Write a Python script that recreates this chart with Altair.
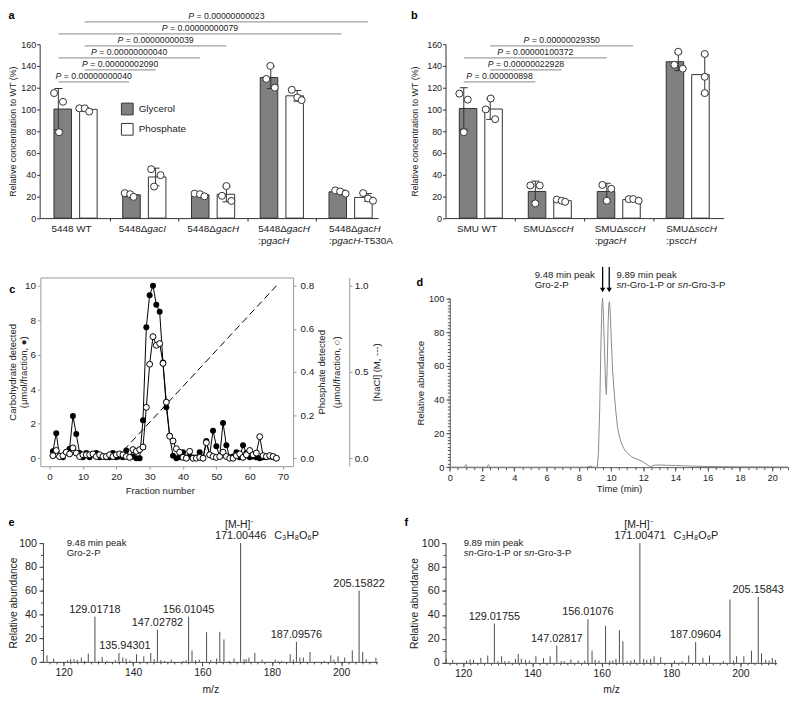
import altair as alt
import pandas as pd

FONT = "Liberation Sans"
INK = "#222222"
W, H = 792, 694


def X(r):
    return r - 8.0


def Y(r):
    return r - 8.0


# ---------------- panel a data ----------------
A_CATS = ["5448 WT", "5448Δ_gacI_", "5448Δ_gacH_", "5448Δ_gacH_\n:p_gacH_", "5448Δ_gacH_\n:p_gacH_-T530A"]
A_GLYCEROL = [[115, 107, 79], [23, 22, 19.5], [22.5, 22, 20], [128, 140, 120], [25.5, 24.5, 22.5]]
A_PHOSPHATE = [[101, 101, 98], [45, 39.5, 29], [29.5, 20.5, 15.8], [118, 111, 108.5], [23, 18, 16]]
A_PVALUES = ["0.00000000040", "0.00000002090", "0.00000000040", "0.00000000039", "0.00000000079", "0.00000000023"]
A_PAIRS = [(0, 1, "Glycerol"), (0, 1, "Phosphate"), (0, 2, "Glycerol"), (0, 2, "Phosphate"),
           (0, 4, "Glycerol"), (0, 4, "Phosphate")]

# ---------------- panel b data ----------------
B_CATS = ["SMU WT", "SMUΔ_sccH_", "SMUΔ_sccH_\n:p_gacH_", "SMUΔ_sccH_\n:p_sccH_"]
B_GLYCEROL = [[114.5, 109, 79], [30, 30, 13.5], [30.5, 27, 16], [141, 153, 137.5]]
B_PHOSPHATE = [[100, 110, 91], [17, 16, 15], [17.5, 17.5, 16], [151, 130, 115]]
B_PVALUES = ["0.000000898", "0.00000022928", "0.00000100372", "0.00000029350"]
B_PAIRS = [(0, 1, "Glycerol"), (0, 1, "Phosphate"), (0, 2, "Glycerol"), (0, 2, "Phosphate")]

# ---------------- panel c data ----------------
C_FRACTION = list(range(1, 69))
C_CARBOHYDRATE = [0.40, 1.45, 0.10, 0.05, 0.35, 0.55, 2.45, 1.40, 0.30, 0.05,
                  0.30, 0.05, 0.25, 0.30, 0.05, 0.10, 0.05, 0.05, 0.30, 0.05,
                  0.10, 0.05, 0.45, 0.05, 0.10, 0.00, 0.00, 2.20, 7.60, 9.45,
                  10.00, 8.90, 8.50, 5.55, 2.95, 1.30, 0.15, 0.00, 0.05, 0.35,
                  0.05, 0.10, 0.05, 0.05, 0.35, 0.05, 1.00, 0.20, 1.60, 0.70,
                  0.10, 2.05, 0.75, 0.05, 0.10, 0.35, 0.05, 0.75, 0.30, 0.05,
                  0.10, 0.05, 0.00, 0.05, 0.05, 0.10, 0.05, 0.00]
C_PHOSPHATE = [0.012, 0.036, 0.008, 0.012, 0.028, 0.020, 0.048, 0.024, 0.008, 0.016,
               0.016, 0.016, 0.020, 0.008, 0.016, 0.008, 0.008, 0.016, 0.008, 0.016,
               0.020, 0.016, 0.008, 0.004, 0.040, 0.032, 0.040, 0.052, 0.236, 0.436,
               0.564, 0.524, 0.532, 0.440, 0.260, 0.102, 0.080, 0.044, 0.028, 0.004,
               0.000, 0.032, 0.000, 0.000, 0.004, 0.000, 0.072, 0.016, 0.008, 0.004,
               0.008, 0.028, 0.008, 0.000, 0.000, 0.012, 0.020, 0.004, 0.016, 0.036,
               0.016, 0.024, 0.100, 0.012, 0.008, 0.012, 0.008, 0.000]
C_NACL_FRACTION = [20, 68]
C_NACL_M = [0.0, 1.0]

# ---------------- panel d data ----------------
D_TIME = [0, 0.9, 1.0, 1.1, 2.3, 2.4, 2.5, 8.5, 8.7, 8.9, 9.15, 9.22, 9.3, 9.38, 9.44, 9.48,
          9.53, 9.6, 9.66, 9.71, 9.76, 9.82, 9.87, 9.91, 9.96, 10.02, 10.1, 10.2, 10.3, 10.4,
          10.5, 10.65, 10.8, 11.0, 11.3, 11.6, 11.9, 12.1, 12.3, 12.45, 12.7, 13.0, 13.5, 14.0,
          14.5, 15.0, 16.0, 17.0, 18.0, 19.0, 20.0, 21.0]
D_ABUNDANCE = [0, 0, 1.5, 0, 0, 1.5, 0, 0, 0.6, 0, 0, 8, 35, 75, 96, 100,
               90, 68, 50, 43, 58, 85, 97, 98, 90, 75, 57, 44, 33, 24,
               19, 14, 11, 8.5, 6, 4.8, 3.6, 2.4, 1.0, 0.4, 1.2, 1.3, 1.1, 1.0,
               0.8, 0.6, 0.4, 0.3, 0.2, 0.2, 0.2, 0.1]
D_PEAK_TIMES = [9.48, 9.89]
D_NOTE_LEFT = ["9.48 min peak", "Gro-2-P"]
D_NOTE_RIGHT = ["9.89 min peak", "_sn_-Gro-1-P or _sn_-Gro-3-P"]

# ---------------- panel e data ----------------
E_MZ = [115.2, 117.1, 121.1, 122.0, 123.0, 123.9, 125.1, 126.0, 127.1, 129.01718, 130.1, 131.1,
        132.5, 134.9, 135.94301, 137.05, 138.0, 139.1, 141.0, 143.1, 145.1, 146.1, 147.02782,
        148.0, 149.1, 151.0, 154.4, 155.3, 156.01045, 157.0, 158.0, 159.1, 161.2, 162.4, 164.1,
        165.0, 166.2, 167.7, 169.1, 171.00446, 172.0, 172.6, 173.4, 175.1, 177.2, 181.0, 181.9,
        182.9, 185.3, 186.2, 187.09576, 188.1, 189.1, 191.0, 195.1, 197.0, 197.9, 199.1, 201.0,
        203.2, 205.15822, 206.2, 207.2, 210.0]
E_INT = [5.5, 2.8, 1.4, 2.2, 2.2, 1.7, 3.6, 0.8, 6.9, 38, 0.8, 4.2,
         0.8, 1.4, 7.5, 3.6, 2.8, 1.4, 6.4, 4.7, 7.5, 2.2, 27,
         1.4, 0.8, 1.9, 0.8, 1.4, 38, 9.7, 1.4, 1.9, 25, 1.4, 2.8,
         25.3, 18.9, 0.8, 2.8, 100, 2.2, 2.2, 3.6, 7.5, 1.9, 1.9, 0.8,
         0.8, 6.4, 1.9, 17, 3.6, 3.6, 8.3, 0.8, 5.5, 1.9, 4.7, 3.6,
         9.7, 60, 8.3, 2.2, 3.3]
E_LABELS = ["129.01718", "135.94301", "147.02782", "156.01045", "171.00446", "187.09576", "205.15822"]
E_NOTE = ["9.48 min peak", "Gro-2-P"]

# ---------------- panel f data ----------------
F_MZ = [115.1, 117.0, 121.0, 122.0, 123.0, 125.1, 127.1, 129.01755, 130.0, 131.1, 132.0, 133.2,
        135.1, 135.9, 136.8, 138.0, 139.1, 141.0, 143.2, 145.1, 147.02817, 148.3, 149.2, 151.1,
        153.2, 155.1, 156.01076, 157.2, 158.1, 159.2, 161.1, 162.3, 163.2, 164.1, 165.1, 166.1,
        167.3, 168.4, 169.4, 171.00471, 172.1, 173.0, 174.1, 175.1, 177.0, 181.0, 183.2, 185.1,
        187.09604, 189.2, 191.1, 195.1, 197.0, 198.0, 198.9, 201.0, 203.2, 205.15843, 206.1,
        207.3, 208.3, 209.2, 210.1]
F_INT = [3.3, 2.5, 1.9, 2.8, 2.5, 4.1, 6.1, 32.8, 1.4, 5.5, 1.4, 1.4,
         3.3, 7.4, 3.3, 2.5, 1.9, 5.5, 3.9, 5.5, 14.3, 1.4, 1.4, 2.8,
         1.9, 1.9, 36.4, 10.2, 2.5, 1.9, 30.9, 1.9, 1.9, 3.3, 27.3, 17.9,
         1.4, 1.9, 2.8, 100, 3.3, 2.5, 3.3, 5.5, 4.7, 1.9, 1.4, 6.1,
         17.4, 4.1, 6.1, 1.4, 52.9, 1.9, 5.5, 5.5, 10.2, 55.1, 8.0,
         2.5, 1.9, 4.1, 2.5]
F_LABELS = ["129.01755", "147.02817", "156.01076", "171.00471", "187.09604", "205.15843"]
F_NOTE = ["9.89 min peak", "_sn_-Gro-1-P or _sn_-Gro-3-P"]

ION = "[M-H]⁻"
FORMULA = "C₃H₈O₆P"
LETTERS = ["a", "b", "c", "d", "e", "f"]

# ---------------- layout / style (not data) ----------------
A_JIT_G = [[-4.3, 4.7, 0.7], [-4.5, 1, 4.5], [-5.5, 0, 4.5], [-4.5, -0.5, 4], [-6.5, -1.5, 4]]
A_JIT_P = [[-5.5, 0, 4.5], [-4.5, 5, -1.5], [0, -4.5, 5], [-5.5, 0, 4.5], [-5, 0, 5]]
B_JIT_G = [[-4.5, 4, 0], [-5, 4.5, 0], [-4.5, 4.5, 0], [-4, 0, 4.5]]
B_JIT_P = [[-4.5, 0.5, 5], [-5, 0, 3.5], [-4.5, 0, 5.5], [0, 0, 0]]
BAR_OFF_PX = 13.35
BAR_W = 17.7

AW = {' ': 278, '!': 278, '(': 333, ')': 333, '%': 889, '-': 333, '.': 278, ':': 278, '=': 584,
      '[': 278, ']': 278, ',': 278, '/': 278, 'Δ': 668}
for ch in "0123456789":
    AW[ch] = 556
AW.update({'A': 667, 'B': 667, 'C': 722, 'D': 722, 'E': 667, 'F': 611, 'G': 778, 'H': 722, 'I': 278,
           'J': 500, 'K': 667, 'L': 556, 'M': 833, 'N': 722, 'O': 778, 'P': 667, 'Q': 778, 'R': 722,
           'S': 667, 'T': 611, 'U': 722, 'V': 667, 'W': 944, 'X': 667, 'Y': 667, 'Z': 611,
           'a': 556, 'b': 556, 'c': 500, 'd': 556, 'e': 556, 'f': 278, 'g': 556, 'h': 556, 'i': 222,
           'j': 222, 'k': 500, 'l': 222, 'm': 833, 'n': 556, 'o': 556, 'p': 556, 'q': 556, 'r': 333,
           's': 500, 't': 278, 'u': 556, 'v': 500, 'w': 722, 'x': 500, 'y': 500, 'z': 500})


def tw(s):
    return sum(AW.get(c, 556) for c in s) / 1000.0


def parse(markup):
    return [(part, i % 2 == 1) for i, part in enumerate(markup.split("_")) if part]


def plain_width(markup):
    return tw(markup.replace("_", ""))


def line_rows(markup, x0, y0, fs, pxu, start_px=0.0):
    rows = []
    cum = start_px
    for s, it in parse(markup):
        core = s.strip(" ")
        lead = len(s) - len(s.lstrip(" "))
        if core:
            rows.append({"x": x0 + (cum + tw(" " * lead) * fs) / pxu, "y": y0, "text": core,
                         "it": it, "fs": fs})
        cum += tw(s) * fs
    return rows


class Panel:
    def __init__(self, xdom, xref, ydom, yref):
        self.xdom, self.ydom = xdom, ydom
        self.xr = [X(xref[0]), X(xref[1])]
        self.yr = [Y(yref[0]), Y(yref[1])]
        self.pxu = (self.xr[1] - self.xr[0]) / (xdom[1] - xdom[0])
        self.pyu = (self.yr[0] - self.yr[1]) / (ydom[1] - ydom[0])

    def xs(self):
        return alt.Scale(domain=self.xdom, range=self.xr, nice=False, zero=False)

    def ys(self, dom=None):
        return alt.Scale(domain=dom or self.ydom, range=self.yr, nice=False, zero=False)

    def xinv(self, rx):
        return self.xdom[0] + (X(rx) - self.xr[0]) / self.pxu

    def yinv(self, ry):
        return self.ydom[0] + (self.yr[0] - Y(ry)) / self.pyu


def ax(orient, offset, values=None, labels=True, ticks=True, domain=True, ts=3, lfs=9,
       color="#333333", title=None, fmt=None, **kw):
    d = dict(orient=orient, offset=offset, grid=False, labels=labels, ticks=ticks, domain=domain,
             tickSize=ts, labelFontSize=lfs, domainColor=color, tickColor=color, labelFlush=False,
             labelOverlap=False, title=title)
    if values is not None:
        d["values"] = values
    if fmt is not None:
        d["format"] = fmt
    d.update(kw)
    return alt.Axis(**d)


def text_layers(rows, xs, ys, extra_axes=(None, None)):
    df = pd.DataFrame(rows)
    out = []
    for it in (False, True):
        sub = df[df["it"] == it].drop(columns=["it"])
        if sub.empty:
            continue
        xa, ya = extra_axes if not it else (None, None)
        out.append(alt.Chart(sub).mark_text(align="left", baseline="middle", font=FONT,
                                            fontStyle="italic" if it else "normal", color=INK).encode(
            x=alt.X("x:Q", scale=xs, axis=xa),
            y=alt.Y("y:Q", scale=ys, axis=ya),
            text="text:N",
            size=alt.Size("fs:Q", scale=None)))
    return out


def bar_panel(p, cats, gly, pho, jg, jp, pvals, pairs, legend, ytitle_ref):
    off = BAR_OFF_PX / p.pxu
    rows = []
    for i in range(len(cats)):
        for t, vals, jit in (("Glycerol", gly[i], jg[i]), ("Phosphate", pho[i], jp[i])):
            xc = i - off if t == "Glycerol" else i + off
            for v, j in zip(vals, jit):
                rows.append({"type": t, "value": v, "xc": xc, "xp": xc + j / p.pxu})
    df = pd.DataFrame(rows)
    xs, ys = p.xs(), p.ys()
    yax = ax("left", -p.xr[0], values=list(range(0, 161, 20)), ts=3, lfs=9, labelPadding=1,
             title="Relative concentration to WT (%)", titleFontSize=9, titleX=X(ytitle_ref) - p.xr[0],
             titleBaseline="middle")
    xax = ax("bottom", p.yr[0] - H, values=[k + 0.5 for k in range(len(cats) - 1)], labels=False, ts=3)
    fill_scale = alt.Scale(domain=["Glycerol", "Phosphate"], range=["#808080", "#ffffff"])
    if legend:
        leg = alt.Legend(orient="none", legendX=X(122), legendY=Y(100), title=None, symbolType="square",
                         symbolSize=140, symbolStrokeColor="#333333", symbolStrokeWidth=1,
                         labelFontSize=10, labelFont=FONT, labelColor=INK, labelOffset=5,
                         rowPadding=3.5, padding=0)
    else:
        leg = None
    bars = alt.Chart(df).mark_bar(width=BAR_W, stroke="#333333", strokeWidth=1).encode(
        x=alt.X("xc:Q", scale=xs, axis=xax),
        y=alt.Y("mean(value):Q", scale=ys, axis=yax, stack=None),
        fill=alt.Fill("type:N", scale=fill_scale, legend=leg))
    eb = alt.Chart(df).transform_aggregate(m="mean(value)", s="stdev(value)", groupby=["xc"]).transform_calculate(
        lo="datum.m - datum.s", hi="datum.m + datum.s")
    e_rule = eb.mark_rule(color="#333333", strokeWidth=1).encode(
        x=alt.X("xc:Q", scale=xs, axis=None), y=alt.Y("lo:Q", scale=ys, axis=None), y2="hi:Q")
    e_hi = eb.mark_tick(orient="horizontal", size=8, thickness=1, color="#333333", opacity=1).encode(
        x=alt.X("xc:Q", scale=xs, axis=None), y=alt.Y("hi:Q", scale=ys, axis=None))
    e_lo = eb.mark_tick(orient="horizontal", size=8, thickness=1, color="#333333", opacity=1).encode(
        x=alt.X("xc:Q", scale=xs, axis=None), y=alt.Y("lo:Q", scale=ys, axis=None))
    pts = alt.Chart(df).mark_point(shape="circle", filled=True, fill="white", stroke="#333333",
                                   strokeWidth=1, size=50, opacity=1).encode(
        x=alt.X("xp:Q", scale=xs, axis=None), y=alt.Y("value:Q", scale=ys, axis=None))
    lvl0 = p.yinv(79)
    step = 12.1 / p.pyu
    brows, trows = [], []
    for k, ((g0, g1, t), pv) in enumerate(zip(pairs, pvals)):
        o = -off if t == "Glycerol" else off
        x0, x1, yl = g0 + o, g1 + o, lvl0 + step * k
        brows.append({"x0": x0, "x1": x1, "y": yl})
        wpx = tw("P = " + pv) * 8.8
        trows += line_rows("_P_ = " + pv, (x0 + x1) / 2, yl + 6 / p.pyu, 8.8, p.pxu, start_px=-wpx / 2)
    br = alt.Chart(pd.DataFrame(brows)).mark_rule(color="#a0a0a0", strokeWidth=1.2).encode(
        x=alt.X("x0:Q", scale=xs, axis=None), x2="x1:Q", y=alt.Y("y:Q", scale=ys, axis=None))
    ly = [p.yinv(227.7), p.yinv(240.0)]
    for i, cat in enumerate(cats):
        lines = cat.split("\n")
        w1 = plain_width(lines[0]) * 10
        for li, ln in enumerate(lines):
            trows += line_rows(ln, i, ly[li], 10, p.pxu, start_px=-w1 / 2)
    return [bars, e_rule, e_hi, e_lo, pts, br] + text_layers(trows, xs, ys)


# ---------------- panels a, b ----------------
pa = Panel([-0.45, 4.33], [40, 382], [0, 160], [216.7, 41])
pb = Panel([-0.44, 3.45], [450, 731], [0, 160], [216.7, 41])
layers = []
layers += bar_panel(pa, A_CATS, A_GLYCEROL, A_PHOSPHATE, A_JIT_G, A_JIT_P, A_PVALUES, A_PAIRS, True, 13.0)
layers += bar_panel(pb, B_CATS, B_GLYCEROL, B_PHOSPHATE, B_JIT_G, B_JIT_P, B_PVALUES, B_PAIRS, False, 418.5)

# ---------------- panel c ----------------
pc = Panel([-2.76, 73.0], [40.7, 296.0], [-0.46, 10.48], [467.3, 276.7])
GR = "#9a9a9a"
ys_pho = pc.ys([-0.0368, 0.8384])
ys_nacl = pc.ys([-0.046, 1.048])
c_xb = ax("bottom", pc.yr[0] - H, values=list(range(0, 71, 10)), ts=3, lfs=10, color=GR,
          title="Fraction number", titleFontSize=9.6, titleX=X(161.3), titleY=24.4, titleBaseline="middle")
c_xt = ax("top", -pc.yr[1], labels=False, ticks=False, color=GR)
c_yl = ax("left", -pc.xr[0], values=[0, 2, 4, 6, 8, 10], ts=3, lfs=10, color=GR, labelPadding=2,
          title=["Carbohydrate detected", "(μmol/fraction, ●)"], titleFontSize=9.6,
          titleX=X(12.3) - pc.xr[0], titleBaseline="middle", titleLineHeight=11.2)
c_yp = ax("right", pc.xr[1] - W, values=[0, 0.2, 0.4, 0.6, 0.8], fmt=".1f", ts=3, lfs=10, color=GR,
          labelPadding=4, title=["Phosphate detected", "(μmol/fraction, ○)"], titleFontSize=9.6,
          titleAngle=270, titleX=325 - 296, titleBaseline="middle", titleLineHeight=14.5)
c_yn = ax("right", X(352.7) - W, values=[0, 0.5, 1.0], fmt=".1f", ts=3, lfs=10, color=GR,
          labelPadding=2, title="[NaCl] (M, ---)", titleFontSize=9.6, titleAngle=270, titleX=27.3,
          titleBaseline="middle")
df_c = pd.DataFrame({"f": C_FRACTION, "carb": C_CARBOHYDRATE, "pho": C_PHOSPHATE})
df_n = pd.DataFrame({"f": C_NACL_FRACTION, "m": C_NACL_M})
layers += [
    alt.Chart(df_n).mark_line(color="black", strokeWidth=1, strokeDash=[7, 4]).encode(
        x=alt.X("f:Q", scale=pc.xs(), axis=c_xt), y=alt.Y("m:Q", scale=ys_nacl, axis=c_yn)),
    alt.Chart(df_c).mark_line(color="black", strokeWidth=1).encode(
        x=alt.X("f:Q", scale=pc.xs(), axis=c_xb), y=alt.Y("carb:Q", scale=pc.ys(), axis=c_yl)),
    alt.Chart(df_c).mark_line(color="black", strokeWidth=1).encode(
        x=alt.X("f:Q", scale=pc.xs(), axis=None), y=alt.Y("pho:Q", scale=ys_pho, axis=c_yp)),
    alt.Chart(df_c).mark_point(shape="circle", filled=True, color="black", size=36, opacity=1).encode(
        x=alt.X("f:Q", scale=pc.xs(), axis=None), y=alt.Y("carb:Q", scale=pc.ys(), axis=None)),
    alt.Chart(df_c).mark_point(shape="circle", filled=True, fill="white", stroke="black", strokeWidth=1,
                               size=36, opacity=1).encode(
        x=alt.X("f:Q", scale=pc.xs(), axis=None), y=alt.Y("pho:Q", scale=ys_pho, axis=None)),
]

# ---------------- panel d ----------------
pd_ = Panel([0, 21], [454.3, 796.3], [0, 100], [468.3, 297.7])
DG = "#555555"
d_xb = ax("bottom", pd_.yr[0] - H, values=list(range(0, 21, 2)), ts=4, lfs=9.3, color=DG,
          title="Time (min)", titleFontSize=9.7, titleY=21.7, titleBaseline="middle")
d_yl = ax("left", -pd_.xr[0], values=list(range(0, 101, 20)), ts=4, lfs=9.3, color=DG,
          title="Relative abundance", titleFontSize=9.7, titleX=-29.3, titleBaseline="middle")
d_xm = ax("bottom", pd_.yr[0] - H, values=[k * 0.5 for k in range(43)], labels=False, domain=False, ts=2.5,
          color=DG)
d_ym = ax("left", -pd_.xr[0], values=list(range(0, 101, 2)), labels=False, domain=False, ts=2.5, color=DG)
df_d = pd.DataFrame({"t": D_TIME, "a": D_ABUNDANCE})
df_arrow = pd.DataFrame({"t": D_PEAK_TIMES})
df_arrow["y0"] = pd_.yinv(266)
df_arrow["y1"] = pd_.yinv(289)
df_arrow["yh"] = pd_.yinv(289.4)
d_rows = []
for li, ln in enumerate(D_NOTE_LEFT):
    d_rows += line_rows(ln, pd_.xinv(540), pd_.yinv(274.3 + 9.7 * li), 9.7, pd_.pxu)
for li, ln in enumerate(D_NOTE_RIGHT):
    d_rows += line_rows(ln, pd_.xinv(622.7), pd_.yinv(274.3 + 9.7 * li), 9.7, pd_.pxu)
layers += [
    alt.Chart(df_d).mark_line(color="#8a8a8a", strokeWidth=1).encode(
        x=alt.X("t:Q", scale=pd_.xs(), axis=d_xb), y=alt.Y("a:Q", scale=pd_.ys(), axis=d_yl)),
    alt.Chart(df_arrow).mark_rule(color="black", strokeWidth=1.3).encode(
        x=alt.X("t:Q", scale=pd_.xs(), axis=d_xm), y=alt.Y("y0:Q", scale=pd_.ys(), axis=d_ym), y2="y1:Q"),
    alt.Chart(df_arrow).mark_point(shape="triangle-down", filled=True, color="black", size=28, opacity=1).encode(
        x=alt.X("t:Q", scale=pd_.xs(), axis=None), y=alt.Y("yh:Q", scale=pd_.ys(), axis=None)),
]
layers += text_layers(d_rows, pd_.xs(), pd_.ys())


# ---------------- panels e, f ----------------
def spectrum(p, mz, inten, labels, note, note_x, nudge, title_ref, base_ref):
    xs, ys = p.xs(), p.ys()
    x_major = ax("bottom", p.yr[0] - H, values=[120, 140, 160, 180, 200], ts=4, lfs=10.5, color="#444444",
                 title="m/z", titleFontSize=10.4, titleY=693.3 - base_ref, titleBaseline="middle")
    y_major = ax("left", -p.xr[0], values=list(range(0, 101, 20)), ts=4, lfs=10.8, color="#444444",
                 labelPadding=2.5, title="Relative abundance", titleFontSize=10.4,
                 titleX=X(title_ref) - p.xr[0], titleBaseline="middle")
    x_minor = ax("bottom", p.yr[0] - H, values=list(range(116, 211, 2)), labels=False, domain=False, ts=2,
                 color="#444444")
    y_minor = ax("left", -p.xr[0], values=list(range(0, 101, 10)), labels=False, domain=False, ts=2.5,
                 color="#444444")
    df = pd.DataFrame({"mz": mz, "i": inten})
    sticks = alt.Chart(df).mark_rule(color="#4d4d4d", strokeWidth=1).encode(
        x=alt.X("mz:Q", scale=xs, axis=x_major), y=alt.Y("i:Q", scale=ys, axis=y_major), y2=alt.datum(0))
    rows = []
    base_mz = None
    for lab in labels:
        m = float(lab)
        inten_m = inten[mz.index(m)]
        if inten_m >= 99.9:
            base_mz = m
        xc = m + nudge.get(lab, 0) / p.pxu
        rows += line_rows(lab, xc, inten_m + 7 / p.pyu, 11, p.pxu, start_px=-tw(lab) * 11 / 2)
    rows += line_rows(ION, base_mz, 100 + 18.5 / p.pyu, 10.5, p.pxu, start_px=-tw(ION) * 10.5 / 2)
    rows += line_rows(FORMULA, base_mz, 100 + 7 / p.pyu, 11, p.pxu, start_px=34)
    for li, ln in enumerate(note):
        rows += line_rows(ln, p.xinv(note_x), p.yinv(545 + 10 * li), 9.6, p.pxu)
    return [sticks] + text_layers(rows, xs, ys, extra_axes=(x_minor, y_minor))


pe = Panel([114.03, 210.5], [43.3, 381.4], [0, 100], [665, 545])
pf = Panel([114.92, 210.5], [450, 784.6], [0, 100], [666, 545])
layers += spectrum(pe, E_MZ, E_INT, E_LABELS, E_NOTE, 67.3, {"135.94301": 6}, 13.5, 665)
layers += spectrum(pf, F_MZ, F_INT, F_LABELS, F_NOTE, 468.3, {}, 418.3, 666)

# ---------------- panel letters ----------------
df_letters = pd.DataFrame({"t": LETTERS,
                           "lx": [X(8.5), X(415), X(9.3), X(420.7), X(8.5), X(408.5)],
                           "ly": [Y(16), Y(16), Y(292), Y(285), Y(527.3), Y(527.3)]})
layers.append(alt.Chart(df_letters).mark_text(align="left", baseline="alphabetic", font=FONT, fontSize=11,
                                              fontWeight="bold", color="black").encode(
    x=alt.X("lx:Q", scale=None, axis=None), y=alt.Y("ly:Q", scale=None, axis=None), text="t:N"))

chart = alt.layer(*layers).resolve_scale(
    x="independent", y="independent", fill="independent"
).resolve_axis(x="independent", y="independent").resolve_legend(fill="independent").properties(
    width=W, height=H, autosize=alt.AutoSizeParams(type="none"), padding=0
).configure_view(stroke=None).configure_axis(
    labelFont=FONT, titleFont=FONT, labelColor=INK, titleColor=INK, titleFontWeight="normal"
).configure_text(font=FONT)

chart.save("out.html", embed_options={"renderer": "svg", "actions": False})
